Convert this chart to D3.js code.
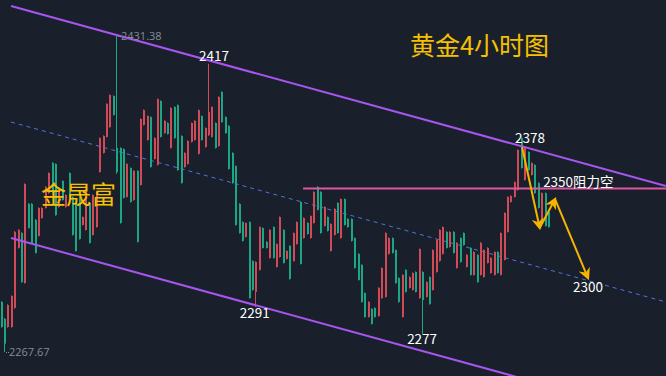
<!DOCTYPE html>
<html>
<head>
<meta charset="utf-8">
<script src="https://cdn.jsdelivr.net/npm/d3@7"></script>
<style>
  html, body { margin: 0; padding: 0; background: #19202c; overflow: hidden; }
  svg { display: block; }
</style>
</head>
<body>
<svg id="chart"></svg>
<script>
// --- Data (4h gold candles) ---
const opens = [
  2280.6, 2272.0, 2292.0, 2296.7, 2329.9, 2330.9, 2303.9, 2354.7, 2331.9, 2324.2,
  2319.0, 2342.3, 2342.3, 2353.2, 2360.4, 2350.0, 2338.6, 2350.6, 2346.4, 2349.0,
  2346.4, 2328.3, 2320.0, 2326.2, 2337.6, 2351.6, 2324.2, 2349.0, 2350.6, 2378.5,
  2379.6, 2396.2, 2400.8, 2390.5, 2360.9, 2334.5, 2347.5, 2365.1, 2345.4, 2361.5,
  2324.7, 2388.4, 2393.0, 2389.9, 2363.5, 2378.5, 2398.7, 2379.1, 2387.4, 2380.6,
  2394.1, 2378.5, 2361.9, 2355.2, 2370.8, 2377.0, 2386.3, 2387.4, 2393.0, 2377.5,
  2383.7, 2392.0, 2394.6, 2373.4, 2399.8, 2386.8, 2381.1, 2362.5, 2355.2, 2333.5,
  2329.3, 2325.2, 2334.5, 2295.6, 2299.8, 2314.3, 2332.4, 2321.6, 2321.6, 2330.9,
  2316.4, 2323.6, 2337.6, 2313.8, 2320.0, 2305.5, 2329.3, 2335.0, 2313.3, 2337.1,
  2328.8, 2338.1, 2350.6, 2341.3, 2329.3, 2342.8, 2330.4, 2334.0, 2341.8, 2329.3,
  2346.9, 2333.5, 2332.4, 2325.2, 2311.2, 2305.0, 2293.6, 2285.8, 2293.6, 2282.2,
  2285.8, 2300.9, 2311.2, 2329.3, 2326.7, 2319.0, 2303.4, 2293.6, 2307.6, 2298.8,
  2306.5, 2308.6, 2298.8, 2321.0, 2294.6, 2303.9, 2292.5, 2320.5, 2325.7, 2330.9,
  2332.4, 2321.6, 2329.9, 2319.0, 2324.2, 2314.3, 2323.1, 2318.0, 2307.6, 2319.5,
  2303.9, 2324.2, 2320.5, 2321.6, 2316.4, 2319.5, 2308.6, 2329.3, 2339.7, 2348.0,
  2348.5, 2355.7, 2372.3, 2363.0, 2373.9, 2361.9, 2365.6, 2350.0, 2342.3, 2350.0,
  2333.0, 2332.4
];
const closes = [
  2293.6, 2284.8, 2280.6, 2280.6, 2290.5, 2321.6, 2329.3, 2303.4, 2344.4, 2344.4,
  2336.1, 2327.8, 2337.1, 2342.3, 2350.0, 2365.6, 2365.1, 2342.8, 2356.3, 2342.8,
  2360.4, 2348.0, 2344.9, 2348.0, 2333.5, 2330.9, 2344.9, 2328.3, 2332.4, 2360.9,
  2370.8, 2379.1, 2384.2, 2400.3, 2373.4, 2373.4, 2372.8, 2348.0, 2363.0, 2346.4,
  2361.5, 2354.2, 2385.3, 2377.5, 2389.4, 2367.7, 2364.6, 2397.7, 2381.1, 2386.3,
  2373.4, 2394.6, 2395.6, 2379.6, 2363.5, 2365.1, 2376.5, 2377.5, 2370.3, 2389.9,
  2373.9, 2380.1, 2379.1, 2386.3, 2374.4, 2402.4, 2389.4, 2384.8, 2370.8, 2364.0,
  2344.4, 2335.0, 2327.3, 2335.0, 2314.8, 2298.8, 2310.2, 2331.9, 2324.7, 2316.4,
  2332.4, 2311.7, 2316.9, 2330.9, 2315.9, 2322.6, 2314.8, 2323.6, 2345.4, 2326.7,
  2334.5, 2326.7, 2334.5, 2353.2, 2350.6, 2333.0, 2337.6, 2320.0, 2328.3, 2344.9,
  2326.7, 2346.9, 2336.6, 2336.6, 2326.7, 2318.5, 2312.8, 2298.2, 2285.8, 2290.0,
  2290.5, 2286.3, 2295.6, 2296.2, 2318.5, 2326.7, 2320.5, 2306.0, 2285.8, 2310.2,
  2300.9, 2299.8, 2309.1, 2295.6, 2309.1, 2296.2, 2306.5, 2299.8, 2309.1, 2314.8,
  2318.5, 2329.9, 2322.1, 2329.9, 2311.2, 2326.7, 2329.3, 2311.7, 2321.6, 2307.6,
  2318.0, 2307.6, 2306.5, 2313.8, 2308.6, 2307.6, 2319.5, 2307.6, 2315.4, 2329.9,
  2345.4, 2348.0, 2351.6, 2378.5, 2356.8, 2371.3, 2359.4, 2364.6, 2355.2, 2335.5,
  2350.0, 2340.2
];
const highs = [
  2294.0, 2285.3, 2292.4, 2297.0, 2330.3, 2331.2, 2329.7, 2355.0, 2344.8, 2344.8,
  2336.5, 2342.6, 2342.6, 2353.5, 2360.7, 2366.0, 2365.4, 2350.9, 2356.6, 2349.3,
  2360.7, 2348.3, 2345.2, 2348.3, 2337.9, 2351.9, 2345.2, 2349.3, 2350.9, 2378.8,
  2379.9, 2396.5, 2401.1, 2400.6, 2431.38, 2373.7, 2373.1, 2365.4, 2363.3, 2361.8,
  2361.8, 2388.7, 2393.3, 2390.2, 2389.7, 2378.8, 2399.0, 2398.0, 2387.7, 2386.6,
  2394.4, 2394.9, 2395.9, 2379.9, 2371.1, 2377.3, 2386.6, 2387.7, 2393.3, 2390.2,
  2384.0, 2417.0, 2394.9, 2386.6, 2400.1, 2402.7, 2389.7, 2385.1, 2371.1, 2364.3,
  2344.7, 2335.3, 2334.8, 2335.3, 2315.1, 2314.6, 2332.7, 2332.2, 2325.0, 2331.2,
  2332.7, 2323.9, 2337.9, 2331.2, 2320.3, 2322.9, 2329.6, 2335.3, 2345.7, 2337.4,
  2334.8, 2338.4, 2350.9, 2353.5, 2350.9, 2343.1, 2337.9, 2334.3, 2342.1, 2345.2,
  2347.2, 2347.2, 2336.9, 2336.9, 2327.0, 2318.8, 2313.1, 2298.5, 2293.9, 2290.3,
  2290.8, 2301.2, 2311.5, 2329.6, 2327.0, 2327.0, 2320.8, 2306.3, 2307.9, 2310.5,
  2306.8, 2308.9, 2309.4, 2321.3, 2309.5, 2304.2, 2306.8, 2320.8, 2326.0, 2331.2,
  2332.7, 2330.2, 2330.2, 2330.2, 2324.5, 2327.0, 2329.6, 2318.3, 2321.9, 2319.8,
  2318.3, 2324.5, 2320.8, 2321.9, 2316.7, 2319.8, 2319.8, 2329.6, 2340.0, 2348.3,
  2348.8, 2356.0, 2372.6, 2378.8, 2374.2, 2371.6, 2365.9, 2364.9, 2355.5, 2350.3,
  2350.3, 2340.5
];
const lows = [
  2280.3, 2267.67, 2280.3, 2280.3, 2290.2, 2321.3, 2303.6, 2303.1, 2331.6, 2323.9,
  2318.7, 2327.5, 2336.8, 2342.0, 2349.7, 2349.7, 2338.3, 2342.5, 2346.1, 2342.5,
  2346.1, 2328.0, 2319.7, 2325.9, 2333.2, 2330.6, 2323.9, 2328.0, 2332.1, 2360.6,
  2370.5, 2378.8, 2383.9, 2390.2, 2360.0, 2334.2, 2347.2, 2347.7, 2345.1, 2346.1,
  2324.4, 2353.9, 2385.0, 2377.2, 2363.2, 2367.4, 2364.3, 2378.8, 2380.8, 2380.3,
  2373.1, 2378.2, 2361.6, 2354.9, 2363.2, 2364.8, 2376.2, 2377.2, 2370.0, 2377.2,
  2373.6, 2379.6, 2378.8, 2373.1, 2374.1, 2386.5, 2380.8, 2362.2, 2354.9, 2333.2,
  2329.0, 2324.9, 2327.0, 2295.3, 2299.5, 2291.0, 2309.9, 2321.3, 2321.3, 2316.1,
  2316.1, 2311.4, 2316.6, 2313.5, 2315.6, 2305.2, 2314.5, 2323.3, 2313.0, 2326.4,
  2328.5, 2326.4, 2334.2, 2341.0, 2329.0, 2332.7, 2330.1, 2319.7, 2328.0, 2329.0,
  2326.4, 2333.2, 2332.1, 2324.9, 2310.9, 2304.7, 2293.3, 2285.5, 2285.5, 2281.9,
  2285.5, 2286.0, 2295.3, 2295.9, 2318.2, 2318.7, 2303.1, 2293.3, 2285.5, 2298.5,
  2300.6, 2299.5, 2298.5, 2295.3, 2277.0, 2295.9, 2292.2, 2299.5, 2308.8, 2314.5,
  2318.2, 2321.3, 2321.8, 2318.7, 2310.9, 2314.0, 2322.8, 2311.4, 2307.3, 2307.3,
  2303.6, 2307.3, 2306.2, 2313.5, 2308.3, 2307.3, 2308.3, 2307.3, 2315.1, 2329.6,
  2345.1, 2347.7, 2351.3, 2362.7, 2356.5, 2361.6, 2359.1, 2349.7, 2342.0, 2335.2,
  2332.7, 2332.1
];

// trend channel and resistance drawn by the analyst: [candle index, price]
const upperLine = [[3.1, 2446.9], [195.7, 2353.7]];
const lowerLine = [[3.1, 2326.7], [195.7, 2233.5]];
const midLine = [[3.1, 2386.8], [195.7, 2293.6]];
const resistLine = [[89.0, 2352.4], [195.7, 2352.4]];

// projected path arrows: [candle index, price]
const arrowPath = [
  [[153.4, 2373.9], [158.6, 2331.9]],
  [[158.6, 2331.9], [163.1, 2346.9]],
  [[163.1, 2346.9], [172.8, 2306.0]]
];

// price notes: text, candle index, price (left / baseline of text)
const noteTexts = ["2417", "2378", "2350阻力空", "2291", "2277", "2300"];
const noteIdx = [58.4, 151.3, 159.6, 70.4, 119.6, 168.4];
const notePrice = [2418.4, 2375.9, 2353.2, 2285.3, 2271.8, 2298.8];

// high / low markers
const extremeIdx = [34, 1];
const extremeVal = [2431.38, 2267.67];

const title = "黄金4小时图";
const watermark = "金晟富";

// --- Setup ---
const width = 666, height = 376;
const UP = "#1ba784", DOWN = "#d04b57";

const svg = d3.select("#chart").attr("width", width).attr("height", height);
svg.append("rect").attr("width", width).attr("height", height).attr("fill", "#19202c");

const x = d3.scaleLinear().domain([0, opens.length - 1]).range([0.5, 547.9]);
const y = d3.scaleLinear().domain([2267.67, 2431.38]).range([352, 36]);

const candles = opens.map((o, i) => ({ i, o, c: closes[i], h: highs[i], l: lows[i] }));

// --- Channel lines ---
const line = d3.line().x(d => x(d[0])).y(d => y(d[1]));

svg.append("path").datum(midLine).attr("d", line)
  .attr("fill", "none").attr("stroke", "#4f74d9").attr("stroke-width", 1)
  .attr("stroke-dasharray", "4,4");

// --- Candles ---
const g = svg.append("g");
g.selectAll(".wick").data(candles).enter().append("line")
  .attr("x1", d => Math.round(x(d.i)) + 0.5).attr("x2", d => Math.round(x(d.i)) + 0.5)
  .attr("y1", d => y(d.h)).attr("y2", d => y(d.l))
  .attr("stroke", d => d.c >= d.o ? UP : DOWN).attr("stroke-width", 1);

g.selectAll(".body").data(candles).enter().append("rect")
  .attr("x", d => Math.round(x(d.i)))
  .attr("width", 2)
  .attr("y", d => y(Math.max(d.o, d.c)))
  .attr("height", d => Math.max(1, Math.abs(y(d.o) - y(d.c))))
  .attr("fill", d => d.c >= d.o ? UP : DOWN);

svg.append("path").datum(upperLine).attr("d", line)
  .attr("fill", "none").attr("stroke", "#a855f0").attr("stroke-width", 2);
svg.append("path").datum(lowerLine).attr("d", line)
  .attr("fill", "none").attr("stroke", "#a855f0").attr("stroke-width", 2);
svg.append("path").datum(resistLine).attr("d", line)
  .attr("fill", "none").attr("stroke", "#e0579f").attr("stroke-width", 2);

// --- High / low markers ---
extremeIdx.forEach((idx, k) => {
  const cx = Math.round(x(idx)) + 1, cy = y(extremeVal[k]);
  svg.append("line").attr("x1", cx + 1).attr("x2", cx + 4).attr("y1", cy + 0.5).attr("y2", cy + 0.5)
    .attr("stroke", "#868c96").attr("stroke-dasharray", "1,1");
  svg.append("text").attr("x", cx + 4).attr("y", cy + 4)
    .attr("fill", "#868c96").attr("font-family", "Open Sans, sans-serif").attr("font-size", 11)
    .text(extremeVal[k].toFixed(2));
});

// --- Arrows ---
const defs = svg.append("defs");
defs.append("marker").attr("id", "head").attr("viewBox", "0 0 10 10")
  .attr("refX", 8).attr("refY", 5).attr("markerWidth", 6).attr("markerHeight", 6)
  .attr("orient", "auto").attr("markerUnits", "strokeWidth")
  .append("path").attr("d", "M0,0 L10,5 L0,10 L3,5 Z").attr("fill", "#f5b400");

svg.selectAll(".arrow").data(arrowPath).enter().append("path")
  .attr("d", line).attr("fill", "none").attr("stroke", "#f5b400").attr("stroke-width", 2)
  .attr("marker-end", "url(#head)");

// --- Notes ---
svg.selectAll(".note").data(noteTexts).enter().append("text")
  .attr("x", (d, i) => x(noteIdx[i])).attr("y", (d, i) => y(notePrice[i]))
  .attr("fill", "#ffffff").attr("font-family", "'Noto Sans CJK SC', 'Noto Sans', sans-serif")
  .attr("font-size", 13.5).text(d => d);

svg.append("text").attr("x", 410).attr("y", 55)
  .attr("fill", "#f7c000").attr("font-family", "'Noto Sans CJK SC', sans-serif")
  .attr("font-size", 25).text(title);

svg.append("text").attr("x", 41).attr("y", 204)
  .attr("fill", "#f7c000").attr("font-family", "'Noto Sans CJK SC', sans-serif")
  .attr("font-size", 25).text(watermark);
</script>
</body>
</html>
